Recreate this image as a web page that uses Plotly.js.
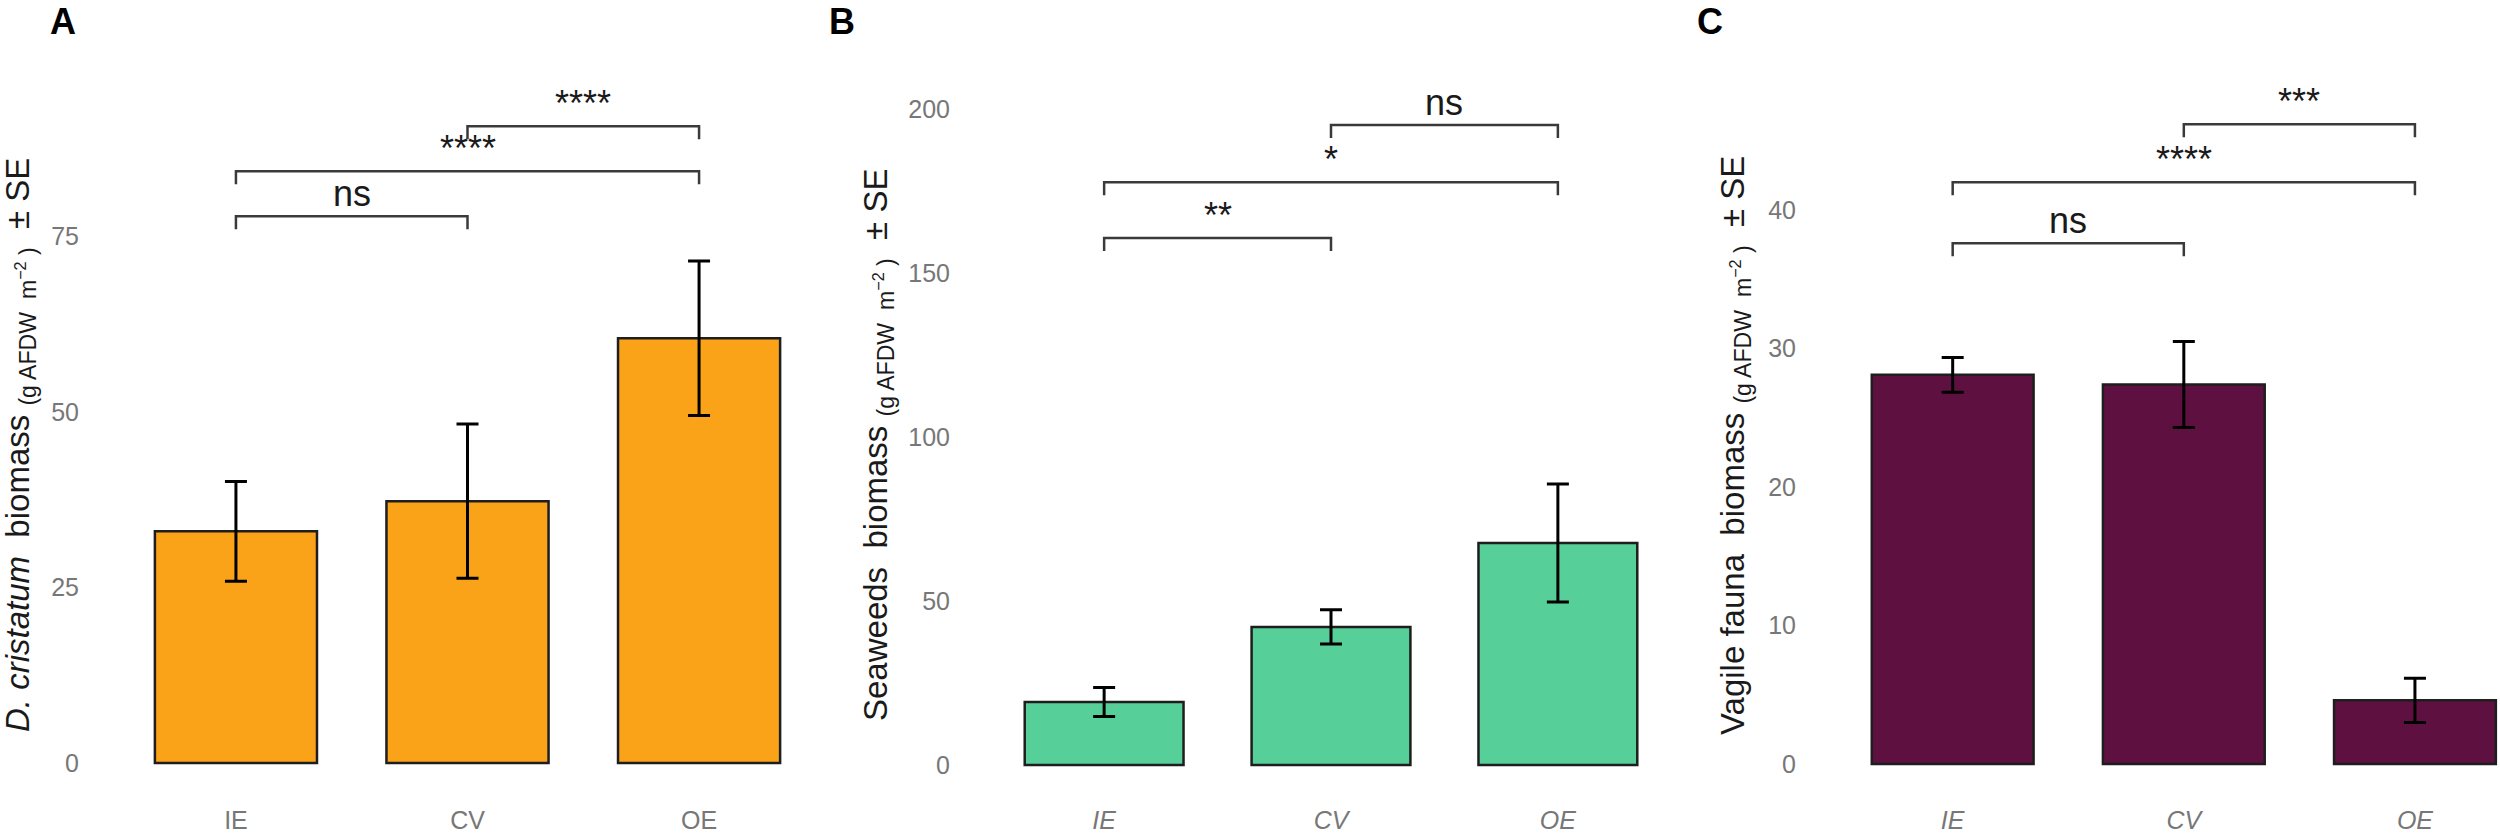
<!DOCTYPE html>
<html>
<head>
<meta charset="utf-8">
<script src="https://cdn.plot.ly/plotly-3.0.1.min.js"></script>
<style>
  html, body { margin: 0; padding: 0; background: #fff; }
  #chart { width: 2500px; height: 833px; }
</style>
</head>
<body>
<div id="chart"></div>
<script>
// sites
const cats = ["IE", "CV", "OE"];

// A: D. cristatum biomass (mean, SE)
const biomassA = [33.0, 37.3, 60.5];
const seA = [7.1, 11.0, 11.0];
// B: seaweeds biomass
const biomassB = [19.2, 42.1, 67.7];
const seB = [4.4, 5.2, 18.0];
// C: vagile fauna biomass
const biomassC = [28.1, 27.4, 4.6];
const seC = [1.25, 3.1, 1.6];

// pairwise comparisons (same order in every panel)
const pairs = [[0, 1], [0, 2], [1, 2]];
const sigYA = [77.9, 84.3, 90.7];
const sigLabA = ["ns", "****", "****"];
const sigYB = [160.7, 177.7, 195.1];
const sigLabB = ["**", "*", "ns"];
const sigYC = [37.6, 42.0, 46.2];
const sigLabC = ["ns", "****", "***"];

const tickValsA = [0, 25, 50, 75];
const tickValsB = [0, 50, 100, 150, 200];
const tickValsC = [0, 10, 20, 30, 40];

const W = 2500, H = 833;
const TOP = 60, BOT = 792;
const FONT = "Liberation Sans, Arial, Helvetica, sans-serif";
const sub = " <sub>(g AFDW  m<sup>−2</sup> )</sub>  ± SE";

const panels = [
  { id: "", vals: biomassA, se: seA, color: "#FBA318", sigY: sigYA, sigLab: sigLabA, ticks: tickValsA,
    zero: 763, ppu: 7.02, xl: 97, xr: 838, xrange: [-0.6, 2.6], italic: false,
    title: "<i>D. cristatum</i>  biomass" + sub, titleX: 20, letter: "A", letterX: 63 },
  { id: "2", vals: biomassB, se: seB, color: "#57CF99", sigY: sigYB, sigLab: sigLabB, ticks: tickValsB,
    zero: 765, ppu: 3.28, xl: 968, xr: 1694, xrange: [-0.6, 2.6], italic: true,
    title: "Seaweeds  biomass" + sub, titleX: 878, letter: "B", letterX: 842 },
  { id: "3", vals: biomassC, se: seC, color: "#5E1040", sigY: sigYC, sigLab: sigLabC, ticks: tickValsC,
    zero: 764, ppu: 13.85, xl: 1814, xr: 2500, xrange: [-0.6, 2.368], italic: true,
    title: "Vagile fauna  biomass" + sub, titleX: 1735, letter: "C", letterX: 1710 }
];

const traces = [];
const annotations = [];
const layout = {
  width: W, height: H,
  margin: { l: 0, r: 0, t: 0, b: 0 },
  paper_bgcolor: "#fff",
  plot_bgcolor: "#fff",
  showlegend: false,
  font: { family: FONT, color: "#222" },
  annotations: annotations
};

panels.forEach((p) => {
  const xa = "x" + p.id, ya = "y" + p.id;
  traces.push({
    type: "bar",
    x: cats,
    y: p.vals,
    width: 0.7,
    xaxis: xa, yaxis: ya,
    marker: { color: p.color, line: { color: "#1e1e1e", width: 2.5 } },
    error_y: { type: "data", array: p.se, visible: true, color: "#000", thickness: 3, width: 11 },
    hoverinfo: "skip"
  });

  // significance brackets
  const tip = 13 / p.ppu;
  pairs.forEach(([a, b], i) => {
    const yv = p.sigY[i];
    traces.push({
      type: "scatter", mode: "lines",
      x: [cats[a], cats[a], cats[b], cats[b]],
      y: [yv - tip, yv, yv, yv - tip],
      xaxis: xa, yaxis: ya,
      line: { color: "#3a3a3a", width: 2.5 },
      hoverinfo: "skip"
    });
    annotations.push({
      xref: xa, yref: ya, x: (a + b) / 2, y: yv,
      text: p.sigLab[i], showarrow: false,
      xanchor: "center", yanchor: "bottom",
      font: { size: 36, color: "#1a1a1a", family: FONT }
    });
  });

  // y title
  annotations.push({
    xref: "paper", yref: "paper", x: p.titleX / W, y: 1 - 445 / H,
    text: p.title, textangle: -90, showarrow: false,
    xanchor: "center", yanchor: "middle",
    font: { size: 33, color: "#1a1a1a", family: FONT }
  });
  // panel letter
  annotations.push({
    xref: "paper", yref: "paper", x: p.letterX / W, y: 1,
    text: "<b>" + p.letter + "</b>", showarrow: false,
    xanchor: "center", yanchor: "top", borderpad: 0,
    font: { size: 36, color: "#000", family: FONT }
  });

  layout["xaxis" + p.id] = {
    domain: [p.xl / W, p.xr / W],
    range: p.xrange,
    type: "category",
    anchor: ya,
    showgrid: false, zeroline: false, showline: false,
    ticks: "outside", ticklen: 6, tickcolor: "rgba(0,0,0,0)",
    tickfont: { size: 25, color: "#777", family: FONT, style: p.italic ? "italic" : "normal" },
    fixedrange: true
  };
  layout["yaxis" + p.id] = {
    domain: [1 - BOT / H, 1 - TOP / H],
    range: [-(BOT - p.zero) / p.ppu, (p.zero - TOP) / p.ppu],
    anchor: xa,
    tickvals: p.ticks,
    showgrid: false, zeroline: false, showline: false,
    ticks: "outside", ticklen: 12, tickcolor: "rgba(0,0,0,0)",
    tickfont: { size: 25, color: "#777", family: FONT },
    fixedrange: true
  };
});

Plotly.newPlot("chart", traces, layout, { displayModeBar: false, staticPlot: true });
</script>
</body>
</html>
